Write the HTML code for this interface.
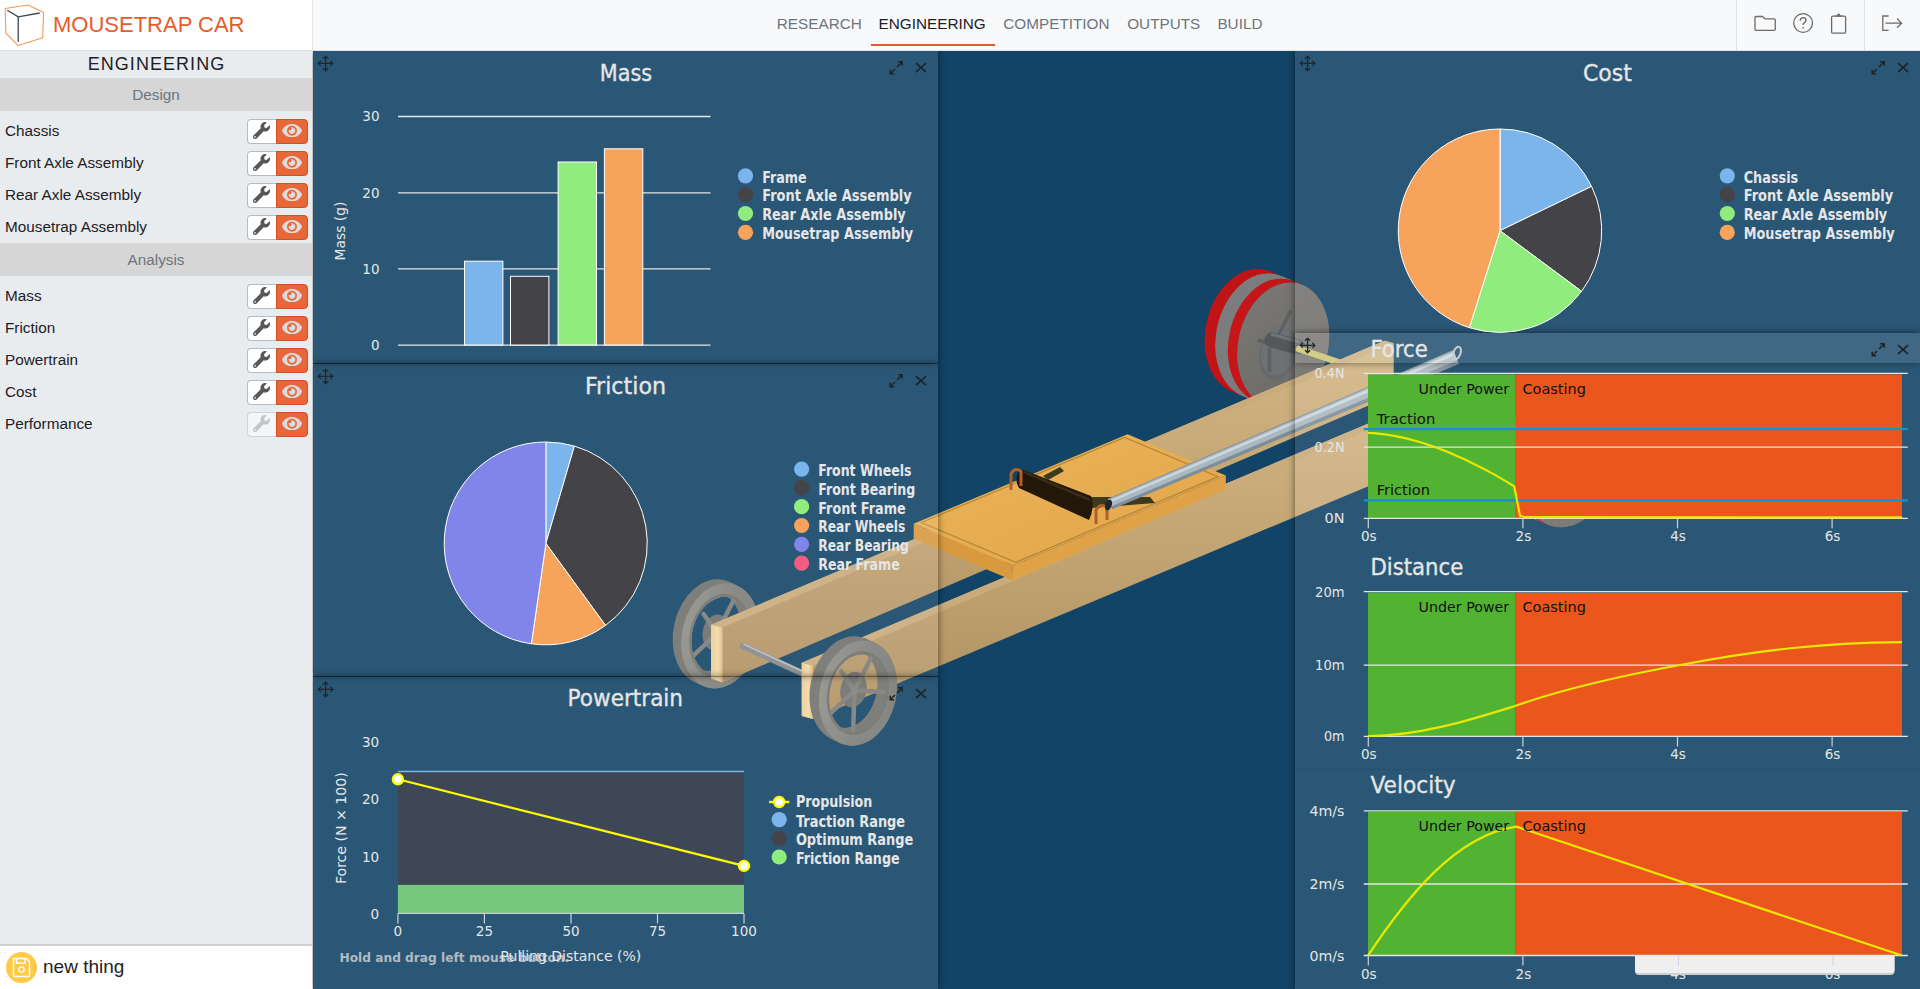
<!DOCTYPE html><html><head><meta charset="utf-8"><title>Mousetrap Car - Engineering</title><style>
*{margin:0;padding:0;box-sizing:border-box}
html,body{width:1920px;height:989px;overflow:hidden;background:#fff;font-family:"Liberation Sans",Arial,sans-serif}
#hdr{position:absolute;left:0;top:0;width:1920px;height:51px;background:#f8f9fa;border-bottom:1px solid #dfe3e7}
#logo{position:absolute;left:0;top:0;width:313px;height:50px;background:#fff;border-right:1px solid #e3e6e9}
#logo .t{position:absolute;left:53px;top:11.5px;font-size:22px;line-height:26px;color:#e95b2b;white-space:nowrap}
.nav{position:absolute;top:15px;font-size:15.3px;line-height:17px;color:#6c757d;white-space:nowrap}
.nav.act{color:#1d2125}
#uline{position:absolute;left:871px;top:44px;width:124px;height:2px;background:#e8582a}
.sep{position:absolute;top:0;width:1px;height:50px;background:#dfe2e5}
#side{position:absolute;left:0;top:51px;width:312px;height:938px;background:#e9ecef}
#side .h{position:absolute;left:0;top:0;width:312px;height:27px;text-align:center;font-size:18px;line-height:27px;letter-spacing:1.05px;color:#1d2125;padding-left:1px}
#side .sh{position:absolute;left:0;width:312px;height:33px;background:#d6d6d6;text-align:center;font-size:15.3px;line-height:33px;color:#6c757d}
.row{position:absolute;left:0;width:312px;height:32px}
.row .lbl{position:absolute;left:5px;top:0;font-size:15.3px;line-height:32px;color:#1d2125;white-space:nowrap}
.row .btns{position:absolute;left:247px;top:4px;height:25px;width:61px}
.b1{position:absolute;left:0;top:0;width:30px;height:25px;background:#fff;border:1px solid #b6bcc3;border-right:none;border-radius:4px 0 0 4px}
.b1.dis{background:#f4f5f6;border-color:#d0d4d8}
.b1 svg{position:absolute;left:5px;top:2px}
.b2{position:absolute;left:29px;top:0;width:32px;height:25px;background:#e8673a;border:1px solid #d2511f;border-radius:0 4px 4px 0}
.b2 svg{position:absolute;left:5px;top:4px}
#foot{position:absolute;left:0;top:944px;width:312px;height:45px;background:#fff;border-top:2px solid #cfd1d3}
#foot .c{position:absolute;left:5.5px;top:6px;width:31px;height:31px;border-radius:50%;background:#ffcb47}
#foot .t{position:absolute;left:43px;top:10px;font-size:19px;line-height:22px;color:#1d2125}
#main{position:absolute;left:313px;top:51px;width:1607px;height:938px;background:#114466;overflow:hidden}
.pan{position:absolute;background:rgba(255,255,255,0.105);box-shadow:0 0 7px rgba(0,0,0,0.55)}
#ov{position:absolute;left:0;top:0}
#ov text{font-family:"DejaVu Sans","Liberation Sans",sans-serif}
</style></head><body>
<div id="main"></div>
<svg id="car" width="1920" height="989" style="position:absolute;left:0;top:0" viewBox="0 0 1920 989"><defs><linearGradient id="beamSide" x1="0" y1="0" x2="0" y2="1"><stop offset="0" stop-color="#d3b683"/><stop offset="1" stop-color="#b09060"/></linearGradient><linearGradient id="rimG" x1="0" y1="0" x2="1" y2="0"><stop offset="0" stop-color="#8d8d88"/><stop offset="0.5" stop-color="#7e7e7a"/><stop offset="1" stop-color="#777773"/></linearGradient><linearGradient id="rearFace" x1="0" y1="0" x2="1" y2="1"><stop offset="0" stop-color="#7a7976"/><stop offset="1" stop-color="#696864"/></linearGradient><linearGradient id="beamEnd" x1="0" y1="0" x2="1" y2="0"><stop offset="0" stop-color="#e9cc93"/><stop offset="0.6" stop-color="#f3d9a3"/><stop offset="1" stop-color="#dcbc85"/></linearGradient><linearGradient id="boardTop" x1="0" y1="0" x2="1" y2="1"><stop offset="0" stop-color="#ebb45a"/><stop offset="1" stop-color="#e2a548"/></linearGradient><clipPath id="mc"><rect x="313" y="51" width="1607" height="938"/></clipPath></defs><g clip-path="url(#mc)"><ellipse cx="1534.8" cy="451.2" rx="44.6" ry="63" transform="rotate(12.9 1534.8 451.2)" fill="#c01518"/>
<ellipse cx="1535.5" cy="451.5" rx="44.6" ry="63" transform="rotate(12.9 1535.5 451.5)" fill="#c01518"/>
<ellipse cx="1536.1" cy="451.8" rx="44.6" ry="63" transform="rotate(12.9 1536.1 451.8)" fill="#c01518"/>
<ellipse cx="1536.8" cy="452" rx="44.6" ry="63" transform="rotate(12.9 1536.8 452)" fill="#c01518"/>
<ellipse cx="1537.5" cy="452.3" rx="44.6" ry="63" transform="rotate(12.9 1537.5 452.3)" fill="#c01518"/>
<ellipse cx="1538.1" cy="452.6" rx="44.6" ry="63" transform="rotate(12.9 1538.1 452.6)" fill="#c01518"/>
<ellipse cx="1538.8" cy="452.9" rx="44.6" ry="63" transform="rotate(12.9 1538.8 452.9)" fill="#c01518"/>
<ellipse cx="1539.4" cy="453.1" rx="44.6" ry="63" transform="rotate(12.9 1539.4 453.1)" fill="#c01518"/>
<ellipse cx="1540.1" cy="453.4" rx="44.6" ry="63" transform="rotate(12.9 1540.1 453.4)" fill="#c01518"/>
<ellipse cx="1540.8" cy="453.7" rx="44.6" ry="63" transform="rotate(12.9 1540.8 453.7)" fill="#c01518"/>
<ellipse cx="1541.4" cy="454" rx="44.6" ry="63" transform="rotate(12.9 1541.4 454)" fill="#c01518"/>
<ellipse cx="1542.1" cy="454.2" rx="44.6" ry="63" transform="rotate(12.9 1542.1 454.2)" fill="#c01518"/>
<ellipse cx="1542.8" cy="454.5" rx="44.6" ry="63" transform="rotate(12.9 1542.8 454.5)" fill="#c01518"/>
<ellipse cx="1543.4" cy="454.8" rx="44.6" ry="63" transform="rotate(12.9 1543.4 454.8)" fill="#c01518"/>
<ellipse cx="1544.1" cy="455.1" rx="44.6" ry="63" transform="rotate(12.9 1544.1 455.1)" fill="#c01518"/>
<ellipse cx="1544.8" cy="455.3" rx="44.6" ry="63" transform="rotate(12.9 1544.8 455.3)" fill="#c01518"/>
<ellipse cx="1545.4" cy="455.6" rx="44.6" ry="63" transform="rotate(12.9 1545.4 455.6)" fill="#7c7d7f"/>
<ellipse cx="1546.1" cy="455.9" rx="44.6" ry="63" transform="rotate(12.9 1546.1 455.9)" fill="#7c7d7f"/>
<ellipse cx="1546.8" cy="456.2" rx="44.6" ry="63" transform="rotate(12.9 1546.8 456.2)" fill="#7c7d7f"/>
<ellipse cx="1547.4" cy="456.4" rx="44.6" ry="63" transform="rotate(12.9 1547.4 456.4)" fill="#7c7d7f"/>
<ellipse cx="1548.1" cy="456.7" rx="44.6" ry="63" transform="rotate(12.9 1548.1 456.7)" fill="#7c7d7f"/>
<ellipse cx="1548.7" cy="457" rx="44.6" ry="63" transform="rotate(12.9 1548.7 457)" fill="#7c7d7f"/>
<ellipse cx="1549.4" cy="457.3" rx="44.6" ry="63" transform="rotate(12.9 1549.4 457.3)" fill="#7c7d7f"/>
<ellipse cx="1550.1" cy="457.5" rx="44.6" ry="63" transform="rotate(12.9 1550.1 457.5)" fill="#7c7d7f"/>
<ellipse cx="1550.7" cy="457.8" rx="44.6" ry="63" transform="rotate(12.9 1550.7 457.8)" fill="#7c7d7f"/>
<ellipse cx="1551.4" cy="458.1" rx="44.6" ry="63" transform="rotate(12.9 1551.4 458.1)" fill="#7c7d7f"/>
<ellipse cx="1552.1" cy="458.4" rx="44.6" ry="63" transform="rotate(12.9 1552.1 458.4)" fill="#7c7d7f"/>
<ellipse cx="1552.7" cy="458.7" rx="44.6" ry="63" transform="rotate(12.9 1552.7 458.7)" fill="#7c7d7f"/>
<ellipse cx="1553.4" cy="458.9" rx="44.6" ry="63" transform="rotate(12.9 1553.4 458.9)" fill="#7c7d7f"/>
<ellipse cx="1554.1" cy="459.2" rx="44.6" ry="63" transform="rotate(12.9 1554.1 459.2)" fill="#7c7d7f"/>
<ellipse cx="1554.7" cy="459.5" rx="44.6" ry="63" transform="rotate(12.9 1554.7 459.5)" fill="#7c7d7f"/>
<ellipse cx="1555.4" cy="459.8" rx="44.6" ry="63" transform="rotate(12.9 1555.4 459.8)" fill="#7c7d7f"/>
<ellipse cx="1556" cy="460" rx="44.6" ry="63" transform="rotate(12.9 1556 460)" fill="#7c7d7f"/>
<ellipse cx="1556.7" cy="460.3" rx="44.6" ry="63" transform="rotate(12.9 1556.7 460.3)" fill="#7c7d7f"/>
<ellipse cx="1557.4" cy="460.6" rx="44.6" ry="63" transform="rotate(12.9 1557.4 460.6)" fill="#7c7d7f"/>
<ellipse cx="1558" cy="460.9" rx="44.6" ry="63" transform="rotate(12.9 1558 460.9)" fill="#c6171a"/>
<ellipse cx="1558.7" cy="461.1" rx="44.6" ry="63" transform="rotate(12.9 1558.7 461.1)" fill="#c6171a"/>
<ellipse cx="1559.4" cy="461.4" rx="44.6" ry="63" transform="rotate(12.9 1559.4 461.4)" fill="#c6171a"/>
<ellipse cx="1560" cy="461.7" rx="44.6" ry="63" transform="rotate(12.9 1560 461.7)" fill="#c6171a"/>
<ellipse cx="1560.7" cy="462" rx="44.6" ry="63" transform="rotate(12.9 1560.7 462)" fill="#c6171a"/>
<ellipse cx="1561.4" cy="462.2" rx="44.6" ry="63" transform="rotate(12.9 1561.4 462.2)" fill="#c6171a"/>
<ellipse cx="1562" cy="462.5" rx="44.6" ry="63" transform="rotate(12.9 1562 462.5)" fill="#c6171a"/>
<ellipse cx="1562.7" cy="462.8" rx="44.6" ry="63" transform="rotate(12.9 1562.7 462.8)" fill="#c6171a"/>
<ellipse cx="1563.4" cy="463.1" rx="44.6" ry="63" transform="rotate(12.9 1563.4 463.1)" fill="#c6171a"/>
<ellipse cx="1564" cy="463.3" rx="44.6" ry="63" transform="rotate(12.9 1564 463.3)" fill="#c6171a"/>
<ellipse cx="1564.7" cy="463.6" rx="44.6" ry="63" transform="rotate(12.9 1564.7 463.6)" fill="#c6171a"/>
<ellipse cx="1565.3" cy="463.9" rx="44.6" ry="63" transform="rotate(12.9 1565.3 463.9)" fill="#c6171a"/>
<ellipse cx="1566" cy="464.2" rx="44.6" ry="63" transform="rotate(12.9 1566 464.2)" fill="#c6171a"/>
<ellipse cx="1566.7" cy="464.4" rx="44.6" ry="63" transform="rotate(12.9 1566.7 464.4)" fill="#c6171a"/>
<ellipse cx="1567.3" cy="464.7" rx="44.6" ry="63" transform="rotate(12.9 1567.3 464.7)" fill="#6f6f6d"/>
<ellipse cx="1568" cy="465" rx="44.6" ry="63" transform="rotate(12.9 1568 465)" fill="#6f6f6d"/>
<ellipse cx="1568" cy="465" rx="44.6" ry="63" transform="rotate(12.9 1568 465)" fill="url(#rearFace)"/>
<ellipse cx="1250.3" cy="331.2" rx="44.6" ry="63" transform="rotate(12.9 1250.3 331.2)" fill="#c01518"/>
<ellipse cx="1251" cy="331.5" rx="44.6" ry="63" transform="rotate(12.9 1251 331.5)" fill="#c01518"/>
<ellipse cx="1251.6" cy="331.8" rx="44.6" ry="63" transform="rotate(12.9 1251.6 331.8)" fill="#c01518"/>
<ellipse cx="1252.3" cy="332" rx="44.6" ry="63" transform="rotate(12.9 1252.3 332)" fill="#c01518"/>
<ellipse cx="1253" cy="332.3" rx="44.6" ry="63" transform="rotate(12.9 1253 332.3)" fill="#c01518"/>
<ellipse cx="1253.6" cy="332.6" rx="44.6" ry="63" transform="rotate(12.9 1253.6 332.6)" fill="#c01518"/>
<ellipse cx="1254.3" cy="332.9" rx="44.6" ry="63" transform="rotate(12.9 1254.3 332.9)" fill="#c01518"/>
<ellipse cx="1254.9" cy="333.1" rx="44.6" ry="63" transform="rotate(12.9 1254.9 333.1)" fill="#c01518"/>
<ellipse cx="1255.6" cy="333.4" rx="44.6" ry="63" transform="rotate(12.9 1255.6 333.4)" fill="#c01518"/>
<ellipse cx="1256.3" cy="333.7" rx="44.6" ry="63" transform="rotate(12.9 1256.3 333.7)" fill="#c01518"/>
<ellipse cx="1256.9" cy="334" rx="44.6" ry="63" transform="rotate(12.9 1256.9 334)" fill="#c01518"/>
<ellipse cx="1257.6" cy="334.2" rx="44.6" ry="63" transform="rotate(12.9 1257.6 334.2)" fill="#c01518"/>
<ellipse cx="1258.3" cy="334.5" rx="44.6" ry="63" transform="rotate(12.9 1258.3 334.5)" fill="#c01518"/>
<ellipse cx="1258.9" cy="334.8" rx="44.6" ry="63" transform="rotate(12.9 1258.9 334.8)" fill="#c01518"/>
<ellipse cx="1259.6" cy="335.1" rx="44.6" ry="63" transform="rotate(12.9 1259.6 335.1)" fill="#c01518"/>
<ellipse cx="1260.3" cy="335.3" rx="44.6" ry="63" transform="rotate(12.9 1260.3 335.3)" fill="#c01518"/>
<ellipse cx="1260.9" cy="335.6" rx="44.6" ry="63" transform="rotate(12.9 1260.9 335.6)" fill="#7c7d7f"/>
<ellipse cx="1261.6" cy="335.9" rx="44.6" ry="63" transform="rotate(12.9 1261.6 335.9)" fill="#7c7d7f"/>
<ellipse cx="1262.3" cy="336.2" rx="44.6" ry="63" transform="rotate(12.9 1262.3 336.2)" fill="#7c7d7f"/>
<ellipse cx="1262.9" cy="336.4" rx="44.6" ry="63" transform="rotate(12.9 1262.9 336.4)" fill="#7c7d7f"/>
<ellipse cx="1263.6" cy="336.7" rx="44.6" ry="63" transform="rotate(12.9 1263.6 336.7)" fill="#7c7d7f"/>
<ellipse cx="1264.2" cy="337" rx="44.6" ry="63" transform="rotate(12.9 1264.2 337)" fill="#7c7d7f"/>
<ellipse cx="1264.9" cy="337.3" rx="44.6" ry="63" transform="rotate(12.9 1264.9 337.3)" fill="#7c7d7f"/>
<ellipse cx="1265.6" cy="337.5" rx="44.6" ry="63" transform="rotate(12.9 1265.6 337.5)" fill="#7c7d7f"/>
<ellipse cx="1266.2" cy="337.8" rx="44.6" ry="63" transform="rotate(12.9 1266.2 337.8)" fill="#7c7d7f"/>
<ellipse cx="1266.9" cy="338.1" rx="44.6" ry="63" transform="rotate(12.9 1266.9 338.1)" fill="#7c7d7f"/>
<ellipse cx="1267.6" cy="338.4" rx="44.6" ry="63" transform="rotate(12.9 1267.6 338.4)" fill="#7c7d7f"/>
<ellipse cx="1268.2" cy="338.7" rx="44.6" ry="63" transform="rotate(12.9 1268.2 338.7)" fill="#7c7d7f"/>
<ellipse cx="1268.9" cy="338.9" rx="44.6" ry="63" transform="rotate(12.9 1268.9 338.9)" fill="#7c7d7f"/>
<ellipse cx="1269.6" cy="339.2" rx="44.6" ry="63" transform="rotate(12.9 1269.6 339.2)" fill="#7c7d7f"/>
<ellipse cx="1270.2" cy="339.5" rx="44.6" ry="63" transform="rotate(12.9 1270.2 339.5)" fill="#7c7d7f"/>
<ellipse cx="1270.9" cy="339.8" rx="44.6" ry="63" transform="rotate(12.9 1270.9 339.8)" fill="#7c7d7f"/>
<ellipse cx="1271.5" cy="340" rx="44.6" ry="63" transform="rotate(12.9 1271.5 340)" fill="#7c7d7f"/>
<ellipse cx="1272.2" cy="340.3" rx="44.6" ry="63" transform="rotate(12.9 1272.2 340.3)" fill="#7c7d7f"/>
<ellipse cx="1272.9" cy="340.6" rx="44.6" ry="63" transform="rotate(12.9 1272.9 340.6)" fill="#7c7d7f"/>
<ellipse cx="1273.5" cy="340.9" rx="44.6" ry="63" transform="rotate(12.9 1273.5 340.9)" fill="#c6171a"/>
<ellipse cx="1274.2" cy="341.1" rx="44.6" ry="63" transform="rotate(12.9 1274.2 341.1)" fill="#c6171a"/>
<ellipse cx="1274.9" cy="341.4" rx="44.6" ry="63" transform="rotate(12.9 1274.9 341.4)" fill="#c6171a"/>
<ellipse cx="1275.5" cy="341.7" rx="44.6" ry="63" transform="rotate(12.9 1275.5 341.7)" fill="#c6171a"/>
<ellipse cx="1276.2" cy="342" rx="44.6" ry="63" transform="rotate(12.9 1276.2 342)" fill="#c6171a"/>
<ellipse cx="1276.9" cy="342.2" rx="44.6" ry="63" transform="rotate(12.9 1276.9 342.2)" fill="#c6171a"/>
<ellipse cx="1277.5" cy="342.5" rx="44.6" ry="63" transform="rotate(12.9 1277.5 342.5)" fill="#c6171a"/>
<ellipse cx="1278.2" cy="342.8" rx="44.6" ry="63" transform="rotate(12.9 1278.2 342.8)" fill="#c6171a"/>
<ellipse cx="1278.9" cy="343.1" rx="44.6" ry="63" transform="rotate(12.9 1278.9 343.1)" fill="#c6171a"/>
<ellipse cx="1279.5" cy="343.3" rx="44.6" ry="63" transform="rotate(12.9 1279.5 343.3)" fill="#c6171a"/>
<ellipse cx="1280.2" cy="343.6" rx="44.6" ry="63" transform="rotate(12.9 1280.2 343.6)" fill="#c6171a"/>
<ellipse cx="1280.8" cy="343.9" rx="44.6" ry="63" transform="rotate(12.9 1280.8 343.9)" fill="#c6171a"/>
<ellipse cx="1281.5" cy="344.2" rx="44.6" ry="63" transform="rotate(12.9 1281.5 344.2)" fill="#c6171a"/>
<ellipse cx="1282.2" cy="344.4" rx="44.6" ry="63" transform="rotate(12.9 1282.2 344.4)" fill="#c6171a"/>
<ellipse cx="1282.8" cy="344.7" rx="44.6" ry="63" transform="rotate(12.9 1282.8 344.7)" fill="#6f6f6d"/>
<ellipse cx="1283.5" cy="345" rx="44.6" ry="63" transform="rotate(12.9 1283.5 345)" fill="#6f6f6d"/>
<ellipse cx="1283.5" cy="345" rx="44.6" ry="63" transform="rotate(12.9 1283.5 345)" fill="url(#rearFace)"/>
<ellipse cx="1278" cy="353" rx="18.5" ry="27" transform="rotate(12.9 1278 353)" fill="#66696b"/>
<ellipse cx="1278" cy="351" rx="17" ry="25" transform="rotate(12.9 1278 351)" fill="#6e7173"/>
<path d="M1276 340 L1291 310 M1269.5 347 L1269.5 372 M1272 345 L1258 340" stroke="#5e6163" stroke-width="3.5" fill="none"/>
<path d="M1272 340 L1298 347" stroke="#55585b" stroke-width="15" stroke-linecap="round"/>
<path d="M1272 334.5 L1298 341.5" stroke="#6f7376" stroke-width="3" stroke-linecap="round"/>
<path d="M1299 349 L1338 362" stroke="#cbc26a" stroke-width="6.5" stroke-linecap="round"/>
<path d="M673.5 631.9 a38.3 53.2 0 1 0 76.6 0 a38.3 53.2 0 1 0 -76.6 0 Z M683.5 631.9 a28.3 39.4 0 1 0 56.6 0 a28.3 39.4 0 1 0 -56.6 0 Z" fill-rule="evenodd" fill="#70706c" transform="rotate(12.7 711.8 631.9)"/>
<path d="M674.4 632.3 a38.3 53.2 0 1 0 76.6 0 a38.3 53.2 0 1 0 -76.6 0 Z M684.4 632.3 a28.3 39.4 0 1 0 56.6 0 a28.3 39.4 0 1 0 -56.6 0 Z" fill-rule="evenodd" fill="#70706c" transform="rotate(12.7 712.7 632.3)"/>
<path d="M675.4 632.8 a38.3 53.2 0 1 0 76.6 0 a38.3 53.2 0 1 0 -76.6 0 Z M685.4 632.8 a28.3 39.4 0 1 0 56.6 0 a28.3 39.4 0 1 0 -56.6 0 Z" fill-rule="evenodd" fill="#70706c" transform="rotate(12.7 713.7 632.8)"/>
<path d="M676.3 633.2 a38.3 53.2 0 1 0 76.6 0 a38.3 53.2 0 1 0 -76.6 0 Z M686.3 633.2 a28.3 39.4 0 1 0 56.6 0 a28.3 39.4 0 1 0 -56.6 0 Z" fill-rule="evenodd" fill="#70706c" transform="rotate(12.7 714.6 633.2)"/>
<path d="M677.3 633.6 a38.3 53.2 0 1 0 76.6 0 a38.3 53.2 0 1 0 -76.6 0 Z M687.3 633.6 a28.3 39.4 0 1 0 56.6 0 a28.3 39.4 0 1 0 -56.6 0 Z" fill-rule="evenodd" fill="#70706c" transform="rotate(12.7 715.6 633.6)"/>
<path d="M678.2 634.1 a38.3 53.2 0 1 0 76.6 0 a38.3 53.2 0 1 0 -76.6 0 Z M688.2 634.1 a28.3 39.4 0 1 0 56.6 0 a28.3 39.4 0 1 0 -56.6 0 Z" fill-rule="evenodd" fill="#70706c" transform="rotate(12.7 716.5 634.1)"/>
<path d="M679.2 634.5 a38.3 53.2 0 1 0 76.6 0 a38.3 53.2 0 1 0 -76.6 0 Z M689.2 634.5 a28.3 39.4 0 1 0 56.6 0 a28.3 39.4 0 1 0 -56.6 0 Z" fill-rule="evenodd" fill="#70706c" transform="rotate(12.7 717.5 634.5)"/>
<path d="M680.1 634.9 a38.3 53.2 0 1 0 76.6 0 a38.3 53.2 0 1 0 -76.6 0 Z M690.1 634.9 a28.3 39.4 0 1 0 56.6 0 a28.3 39.4 0 1 0 -56.6 0 Z" fill-rule="evenodd" fill="#70706c" transform="rotate(12.7 718.4 634.9)"/>
<path d="M681.1 635.4 a38.3 53.2 0 1 0 76.6 0 a38.3 53.2 0 1 0 -76.6 0 Z M691.1 635.4 a28.3 39.4 0 1 0 56.6 0 a28.3 39.4 0 1 0 -56.6 0 Z" fill-rule="evenodd" fill="#70706c" transform="rotate(12.7 719.4 635.4)"/>
<path d="M682 635.8 a38.3 53.2 0 1 0 76.6 0 a38.3 53.2 0 1 0 -76.6 0 Z M692 635.8 a28.3 39.4 0 1 0 56.6 0 a28.3 39.4 0 1 0 -56.6 0 Z" fill-rule="evenodd" fill="#6b6b68" transform="rotate(12.7 720.3 635.8)"/>
<ellipse cx="715.8" cy="632.3" rx="13" ry="18" transform="rotate(12.7 715.8 632.3)" fill="#6d6d6a"/>
<path d="M716.8 633.3 L735 597.6" stroke="#7a7a77" stroke-width="4.5" stroke-linecap="round"/>
<path d="M716.8 633.3 L746.5 634.6" stroke="#7a7a77" stroke-width="4.5" stroke-linecap="round"/>
<path d="M716.8 633.3 L715.6 673.4" stroke="#7a7a77" stroke-width="4.5" stroke-linecap="round"/>
<path d="M716.8 633.3 L692.6 656.4" stroke="#7a7a77" stroke-width="4.5" stroke-linecap="round"/>
<path d="M716.8 633.3 L703.5 613.9" stroke="#7a7a77" stroke-width="4.5" stroke-linecap="round"/>
<ellipse cx="716.8" cy="633.3" rx="3.5" ry="4.5" transform="rotate(12.7 716.8 633.3)" fill="#7f7f7b"/>
<path d="M682 635.8 a38.3 53.2 0 1 0 76.6 0 a38.3 53.2 0 1 0 -76.6 0 Z M692 635.8 a28.3 39.4 0 1 0 56.6 0 a28.3 39.4 0 1 0 -56.6 0 Z" fill-rule="evenodd" fill="url(#rimG)" transform="rotate(12.7 720.3 635.8)"/>
<path d="M689.8 635.8 a30.5 42.4 0 1 0 61 0 a30.5 42.4 0 1 0 -61 0 Z M692 635.8 a28.3 39.4 0 1 0 56.6 0 a28.3 39.4 0 1 0 -56.6 0 Z" fill-rule="evenodd" fill="#6e6e6b" transform="rotate(12.7 720.3 635.8)"/>
<polygon points="711,624.8 1384.7,340.7 1393.7,343.2 1393.7,394.8 722.5,682.4 711,678.6" fill="url(#beamSide)"/>
<polygon points="711,624.8 1384.7,340.7 1393.7,343.2 722.5,627.6" fill="#c9ab7c"/>
<polygon points="711,624.8 722.5,627.6 722.5,682.4 711,678.6" fill="url(#beamEnd)"/>
<path d="M743 646 L804 674" stroke="#85888a" stroke-width="6.5" stroke-linecap="round"/>
<path d="M744 644.3 L804 672" stroke="#b9bcbe" stroke-width="1.6" stroke-linecap="round"/>
<polygon points="801.7,662.7 1440,393.3 1449,395.8 1449,452.4 812.9,718.9 801.7,716" fill="url(#beamSide)"/>
<polygon points="801.7,662.7 1440,393.3 1449,395.8 812.9,665.7" fill="#c9ab7c"/>
<polygon points="801.7,662.7 812.9,665.7 812.9,718.9 801.7,716" fill="url(#beamEnd)"/>
<path d="M810.3 688.8 a38.3 53.2 0 1 0 76.6 0 a38.3 53.2 0 1 0 -76.6 0 Z M820.3 688.8 a28.3 39.4 0 1 0 56.6 0 a28.3 39.4 0 1 0 -56.6 0 Z" fill-rule="evenodd" fill="#70706c" transform="rotate(12.7 848.6 688.8)"/>
<path d="M811.3 689.3 a38.3 53.2 0 1 0 76.6 0 a38.3 53.2 0 1 0 -76.6 0 Z M821.3 689.3 a28.3 39.4 0 1 0 56.6 0 a28.3 39.4 0 1 0 -56.6 0 Z" fill-rule="evenodd" fill="#70706c" transform="rotate(12.7 849.6 689.3)"/>
<path d="M812.4 689.8 a38.3 53.2 0 1 0 76.6 0 a38.3 53.2 0 1 0 -76.6 0 Z M822.4 689.8 a28.3 39.4 0 1 0 56.6 0 a28.3 39.4 0 1 0 -56.6 0 Z" fill-rule="evenodd" fill="#70706c" transform="rotate(12.7 850.7 689.8)"/>
<path d="M813.4 690.2 a38.3 53.2 0 1 0 76.6 0 a38.3 53.2 0 1 0 -76.6 0 Z M823.4 690.2 a28.3 39.4 0 1 0 56.6 0 a28.3 39.4 0 1 0 -56.6 0 Z" fill-rule="evenodd" fill="#70706c" transform="rotate(12.7 851.7 690.2)"/>
<path d="M814.4 690.7 a38.3 53.2 0 1 0 76.6 0 a38.3 53.2 0 1 0 -76.6 0 Z M824.4 690.7 a28.3 39.4 0 1 0 56.6 0 a28.3 39.4 0 1 0 -56.6 0 Z" fill-rule="evenodd" fill="#70706c" transform="rotate(12.7 852.7 690.7)"/>
<path d="M815.5 691.2 a38.3 53.2 0 1 0 76.6 0 a38.3 53.2 0 1 0 -76.6 0 Z M825.5 691.2 a28.3 39.4 0 1 0 56.6 0 a28.3 39.4 0 1 0 -56.6 0 Z" fill-rule="evenodd" fill="#70706c" transform="rotate(12.7 853.8 691.2)"/>
<path d="M816.5 691.7 a38.3 53.2 0 1 0 76.6 0 a38.3 53.2 0 1 0 -76.6 0 Z M826.5 691.7 a28.3 39.4 0 1 0 56.6 0 a28.3 39.4 0 1 0 -56.6 0 Z" fill-rule="evenodd" fill="#70706c" transform="rotate(12.7 854.8 691.7)"/>
<path d="M817.5 692.1 a38.3 53.2 0 1 0 76.6 0 a38.3 53.2 0 1 0 -76.6 0 Z M827.5 692.1 a28.3 39.4 0 1 0 56.6 0 a28.3 39.4 0 1 0 -56.6 0 Z" fill-rule="evenodd" fill="#70706c" transform="rotate(12.7 855.8 692.1)"/>
<path d="M818.6 692.6 a38.3 53.2 0 1 0 76.6 0 a38.3 53.2 0 1 0 -76.6 0 Z M828.6 692.6 a28.3 39.4 0 1 0 56.6 0 a28.3 39.4 0 1 0 -56.6 0 Z" fill-rule="evenodd" fill="#70706c" transform="rotate(12.7 856.9 692.6)"/>
<path d="M819.6 693.1 a38.3 53.2 0 1 0 76.6 0 a38.3 53.2 0 1 0 -76.6 0 Z M829.6 693.1 a28.3 39.4 0 1 0 56.6 0 a28.3 39.4 0 1 0 -56.6 0 Z" fill-rule="evenodd" fill="#6b6b68" transform="rotate(12.7 857.9 693.1)"/>
<ellipse cx="853.4" cy="689.6" rx="13" ry="18" transform="rotate(12.7 853.4 689.6)" fill="#6d6d6a"/>
<path d="M854.4 690.6 L872.6 654.9" stroke="#7a7a77" stroke-width="4.5" stroke-linecap="round"/>
<path d="M854.4 690.6 L884.1 691.9" stroke="#7a7a77" stroke-width="4.5" stroke-linecap="round"/>
<path d="M854.4 690.6 L853.2 730.7" stroke="#7a7a77" stroke-width="4.5" stroke-linecap="round"/>
<path d="M854.4 690.6 L830.2 713.7" stroke="#7a7a77" stroke-width="4.5" stroke-linecap="round"/>
<path d="M854.4 690.6 L841.1 671.2" stroke="#7a7a77" stroke-width="4.5" stroke-linecap="round"/>
<ellipse cx="854.4" cy="690.6" rx="3.5" ry="4.5" transform="rotate(12.7 854.4 690.6)" fill="#7f7f7b"/>
<path d="M819.6 693.1 a38.3 53.2 0 1 0 76.6 0 a38.3 53.2 0 1 0 -76.6 0 Z M829.6 693.1 a28.3 39.4 0 1 0 56.6 0 a28.3 39.4 0 1 0 -56.6 0 Z" fill-rule="evenodd" fill="url(#rimG)" transform="rotate(12.7 857.9 693.1)"/>
<path d="M827.4 693.1 a30.5 42.4 0 1 0 61 0 a30.5 42.4 0 1 0 -61 0 Z M829.6 693.1 a28.3 39.4 0 1 0 56.6 0 a28.3 39.4 0 1 0 -56.6 0 Z" fill-rule="evenodd" fill="#6e6e6b" transform="rotate(12.7 857.9 693.1)"/>
<polygon points="913.7,523.7 1012.8,565.6 1012.8,580.4 913.7,538.5" fill="#d8993f"/>
<polygon points="1012.8,565.6 1225.8,475.5 1225.8,489.3 1012.8,580.4" fill="#e0a246"/>
<polygon points="913.7,523.7 1127.5,434.2 1225.8,475.5 1012.8,565.6" fill="url(#boardTop)"/>
<polygon points="921.5,522.5 1124.6,437.5 1218,476.7 1015.7,562.3" fill="none" stroke="#a87a2c" stroke-width="1.3" opacity="0.75"/>
<polygon points="1043,476 1060,467 1064,471 1048,480" fill="#3a3a1e"/>
<polygon points="1088,497 1150,497 1155,503 1092,508" fill="#3a3a1e"/>
<path d="M1021 469 L1091 496 Q1095 508 1089 520 L1019 488 Q1013 478 1021 469 Z" fill="#231709"/>
<path d="M1024 472 L1090 500" stroke="#3b2a17" stroke-width="2.5"/>
<path d="M1011 490 L1011 474 Q1014 467 1021 471 L1021 486" stroke="#b0602a" stroke-width="3" fill="none"/>
<path d="M1096 524 L1096 510 Q1100 503 1107 507 L1107 520" stroke="#b0602a" stroke-width="3" fill="none"/>
<polygon points="1112.2,509.3 1458.9,363.9 1453.1,350.1 1107.8,498.7" fill="#7e8d97"/>
<polygon points="1111,506.4 1457.4,360.2 1453.5,351 1108.1,499.5" fill="#a9b8c1"/>
<polygon points="1109.5,502.8 1455.3,355.3 1454.1,352.6 1108.6,500.8" fill="#cdd8de"/>
<ellipse cx="1108.5" cy="505" rx="3.2" ry="5.5" transform="rotate(20 1108.5 505)" fill="#1d2731"/>
<ellipse cx="1457" cy="353" rx="3.5" ry="6.5" transform="rotate(20 1457 353)" fill="none" stroke="#b9c3c9" stroke-width="2"/></g></svg>
<div class="pan" style="left:313px;top:51px;width:625px;height:312px"></div>
<div class="pan" style="left:313px;top:364px;width:625px;height:312px"></div>
<div class="pan" style="left:313px;top:677px;width:625px;height:312px"></div>
<div class="pan" style="left:1295px;top:51px;width:625px;height:312px"></div>
<div class="pan" style="left:1295px;top:333px;width:625px;height:656px"></div>
<svg id="ov" width="1920" height="989" viewBox="0 0 1920 989"><g clip-path="url(#mc2)"><text x="625.9" y="80.8" font-size="23" fill="#e6e6e6" text-anchor="middle" font-weight="normal" textLength="52.3" lengthAdjust="spacingAndGlyphs" stroke="#e6e6e6" stroke-width="0.35">Mass</text>
<path d="M398 116.5H710.5" stroke="#e6e6e6" stroke-width="1.3"/>
<text x="379.5" y="121.3" font-size="13.5" fill="#e6e6e6" text-anchor="end" font-weight="normal">30</text>
<path d="M398 192.8H710.5" stroke="#e6e6e6" stroke-width="1.3"/>
<text x="379.5" y="197.6" font-size="13.5" fill="#e6e6e6" text-anchor="end" font-weight="normal">20</text>
<path d="M398 268.8H710.5" stroke="#e6e6e6" stroke-width="1.3"/>
<text x="379.5" y="273.6" font-size="13.5" fill="#e6e6e6" text-anchor="end" font-weight="normal">10</text>
<path d="M398 345.1H710.5" stroke="#e6e6e6" stroke-width="1.3"/>
<text x="379.5" y="349.9" font-size="13.5" fill="#e6e6e6" text-anchor="end" font-weight="normal">0</text>
<rect x="464.5" y="261.2" width="38.4" height="83.8" fill="#7cb5ec" stroke="#fff" stroke-width="1"/>
<rect x="510.5" y="276.3" width="38.4" height="68.7" fill="#434348" stroke="#fff" stroke-width="1"/>
<rect x="558.1" y="162" width="38.4" height="183" fill="#90ed7d" stroke="#fff" stroke-width="1"/>
<rect x="604.4" y="148.8" width="38.4" height="196.2" fill="#f7a35c" stroke="#fff" stroke-width="1"/>
<text transform="translate(345 231) rotate(-90)" font-size="14" fill="#e6e6e6" text-anchor="middle" textLength="59" lengthAdjust="spacingAndGlyphs">Mass (g)</text>
<circle cx="745.5" cy="175.8" r="7.6" fill="#7cb5ec"/>
<text x="762.2" y="182.6" font-size="15" fill="#e6e6e6" text-anchor="start" font-weight="bold" textLength="44.5" lengthAdjust="spacingAndGlyphs">Frame</text>
<circle cx="745.5" cy="194.6" r="7.6" fill="#434348"/>
<text x="762.2" y="201.4" font-size="15" fill="#e6e6e6" text-anchor="start" font-weight="bold" textLength="149.5" lengthAdjust="spacingAndGlyphs">Front Axle Assembly</text>
<circle cx="745.5" cy="213.5" r="7.6" fill="#90ed7d"/>
<text x="762.2" y="220.3" font-size="15" fill="#e6e6e6" text-anchor="start" font-weight="bold" textLength="143.5" lengthAdjust="spacingAndGlyphs">Rear Axle Assembly</text>
<circle cx="745.5" cy="232.3" r="7.6" fill="#f7a35c"/>
<text x="762.2" y="239.2" font-size="15" fill="#e6e6e6" text-anchor="start" font-weight="bold" textLength="151" lengthAdjust="spacingAndGlyphs">Mousetrap Assembly</text>
<text x="625.5" y="393.8" font-size="23" fill="#e6e6e6" text-anchor="middle" font-weight="normal" textLength="81.1" lengthAdjust="spacingAndGlyphs" stroke="#e6e6e6" stroke-width="0.35">Friction</text>
<path d="M545.9 543.4 L545.9 442 A101.4 101.4 0 0 1 574.4 446.1 Z" fill="#7cb5ec" stroke="#fff" stroke-width="1" stroke-linejoin="round"/>
<path d="M545.9 543.4 L574.4 446.1 A101.4 101.4 0 0 1 605.5 625.4 Z" fill="#434348" stroke="#fff" stroke-width="1" stroke-linejoin="round"/>
<path d="M545.9 543.4 L605.5 625.4 A101.4 101.4 0 0 1 531.4 643.8 Z" fill="#f7a35c" stroke="#fff" stroke-width="1" stroke-linejoin="round"/>
<path d="M545.9 543.4 L531.4 643.8 A101.4 101.4 0 0 1 545.9 442 Z" fill="#8085e9" stroke="#fff" stroke-width="1" stroke-linejoin="round"/>
<circle cx="801.6" cy="469.1" r="7.6" fill="#7cb5ec"/>
<text x="818.2" y="475.9" font-size="15" fill="#e6e6e6" text-anchor="start" font-weight="bold" textLength="93.2" lengthAdjust="spacingAndGlyphs">Front Wheels</text>
<circle cx="801.6" cy="487.9" r="7.6" fill="#434348"/>
<text x="818.2" y="494.7" font-size="15" fill="#e6e6e6" text-anchor="start" font-weight="bold" textLength="97.1" lengthAdjust="spacingAndGlyphs">Front Bearing</text>
<circle cx="801.6" cy="506.7" r="7.6" fill="#90ed7d"/>
<text x="818.2" y="513.5" font-size="15" fill="#e6e6e6" text-anchor="start" font-weight="bold" textLength="87.5" lengthAdjust="spacingAndGlyphs">Front Frame</text>
<circle cx="801.6" cy="525.5" r="7.6" fill="#f7a35c"/>
<text x="818.2" y="532.3" font-size="15" fill="#e6e6e6" text-anchor="start" font-weight="bold" textLength="87.1" lengthAdjust="spacingAndGlyphs">Rear Wheels</text>
<circle cx="801.6" cy="544.3" r="7.6" fill="#8085e9"/>
<text x="818.2" y="551.1" font-size="15" fill="#e6e6e6" text-anchor="start" font-weight="bold" textLength="90.6" lengthAdjust="spacingAndGlyphs">Rear Bearing</text>
<circle cx="801.6" cy="563.1" r="7.6" fill="#f15c80"/>
<text x="818.2" y="569.9" font-size="15" fill="#e6e6e6" text-anchor="start" font-weight="bold" textLength="81.5" lengthAdjust="spacingAndGlyphs">Rear Frame</text>
<text x="625.3" y="706.3" font-size="23" fill="#e6e6e6" text-anchor="middle" font-weight="normal" textLength="115.5" lengthAdjust="spacingAndGlyphs" stroke="#e6e6e6" stroke-width="0.35">Powertrain</text>
<text x="379.2" y="746.8" font-size="13.5" fill="#e6e6e6" text-anchor="end" font-weight="normal">30</text>
<text x="379.2" y="804.1" font-size="13.5" fill="#e6e6e6" text-anchor="end" font-weight="normal">20</text>
<text x="379.2" y="861.5" font-size="13.5" fill="#e6e6e6" text-anchor="end" font-weight="normal">10</text>
<text x="379.2" y="918.8" font-size="13.5" fill="#e6e6e6" text-anchor="end" font-weight="normal">0</text>
<rect x="397.9" y="771.7" width="346.1" height="113.2" fill="#3d4756"/>
<rect x="397.9" y="884.9" width="346.1" height="28.5" fill="#76c97c"/>
<path d="M397.9 771.5H744" stroke="#7cb5ec" stroke-width="1.6"/>
<path d="M397.9 913.4H744" stroke="#c8d0da" stroke-width="1.2"/>
<path d="M397.9 913.4V923.4" stroke="#c8d0da" stroke-width="1.2"/>
<text x="397.9" y="936.4" font-size="13.5" fill="#e6e6e6" text-anchor="middle" font-weight="normal">0</text>
<path d="M484.4 913.4V923.4" stroke="#c8d0da" stroke-width="1.2"/>
<text x="484.4" y="936.4" font-size="13.5" fill="#e6e6e6" text-anchor="middle" font-weight="normal">25</text>
<path d="M571 913.4V923.4" stroke="#c8d0da" stroke-width="1.2"/>
<text x="571" y="936.4" font-size="13.5" fill="#e6e6e6" text-anchor="middle" font-weight="normal">50</text>
<path d="M657.5 913.4V923.4" stroke="#c8d0da" stroke-width="1.2"/>
<text x="657.5" y="936.4" font-size="13.5" fill="#e6e6e6" text-anchor="middle" font-weight="normal">75</text>
<path d="M744 913.4V923.4" stroke="#c8d0da" stroke-width="1.2"/>
<text x="744" y="936.4" font-size="13.5" fill="#e6e6e6" text-anchor="middle" font-weight="normal">100</text>
<path d="M397.9 779.3 L744 865.9" stroke="#ffff00" stroke-width="2.2"/>
<circle cx="397.9" cy="779.3" r="5" fill="#fff" stroke="#ffff00" stroke-width="2.4"/>
<circle cx="744" cy="865.9" r="5" fill="#fff" stroke="#ffff00" stroke-width="2.4"/>
<text transform="translate(346 828.2) rotate(-90)" font-size="14" fill="#e6e6e6" text-anchor="middle" textLength="111.8" lengthAdjust="spacingAndGlyphs">Force (N × 100)</text>
<text x="339.5" y="961.5" font-size="13" fill="#c9ccd0" text-anchor="start" font-weight="bold" textLength="229.7" lengthAdjust="spacingAndGlyphs" opacity="0.85">Hold and drag left mouse button.</text>
<text x="570.8" y="961.3" font-size="14" fill="#e6e6e6" text-anchor="middle" font-weight="normal" textLength="141" lengthAdjust="spacingAndGlyphs">Pulling Distance (%)</text>
<path d="M769.1 802H789.3" stroke="#ffff00" stroke-width="2.4"/>
<circle cx="779.2" cy="802" r="5" fill="#fff" stroke="#ffff00" stroke-width="2.4"/>
<text x="795.9" y="807.3" font-size="15" fill="#e6e6e6" text-anchor="start" font-weight="bold" textLength="76.4" lengthAdjust="spacingAndGlyphs">Propulsion</text>
<circle cx="779.2" cy="819.6" r="7.6" fill="#7cb5ec"/>
<text x="795.9" y="826.5" font-size="15" fill="#e6e6e6" text-anchor="start" font-weight="bold" textLength="109.2" lengthAdjust="spacingAndGlyphs">Traction Range</text>
<circle cx="779.2" cy="838.3" r="7.6" fill="#434348"/>
<text x="795.9" y="845.2" font-size="15" fill="#e6e6e6" text-anchor="start" font-weight="bold" textLength="117.3" lengthAdjust="spacingAndGlyphs">Optimum Range</text>
<circle cx="779.2" cy="857" r="7.6" fill="#90ed7d"/>
<text x="795.9" y="863.9" font-size="15" fill="#e6e6e6" text-anchor="start" font-weight="bold" textLength="103.7" lengthAdjust="spacingAndGlyphs">Friction Range</text>
<text x="1607.4" y="80.6" font-size="23" fill="#e6e6e6" text-anchor="middle" font-weight="normal" textLength="48.9" lengthAdjust="spacingAndGlyphs" stroke="#e6e6e6" stroke-width="0.35">Cost</text>
<path d="M1500 230.7 L1500 129 A101.7 101.7 0 0 1 1591.6 186.4 Z" fill="#7cb5ec" stroke="#fff" stroke-width="1" stroke-linejoin="round"/>
<path d="M1500 230.7 L1591.6 186.4 A101.7 101.7 0 0 1 1581.6 291.3 Z" fill="#434348" stroke="#fff" stroke-width="1" stroke-linejoin="round"/>
<path d="M1500 230.7 L1581.6 291.3 A101.7 101.7 0 0 1 1469.4 327.7 Z" fill="#90ed7d" stroke="#fff" stroke-width="1" stroke-linejoin="round"/>
<path d="M1500 230.7 L1469.4 327.7 A101.7 101.7 0 0 1 1500 129 Z" fill="#f7a35c" stroke="#fff" stroke-width="1" stroke-linejoin="round"/>
<circle cx="1727.3" cy="175.8" r="7.6" fill="#7cb5ec"/>
<text x="1743.7" y="182.6" font-size="15" fill="#e6e6e6" text-anchor="start" font-weight="bold" textLength="54.5" lengthAdjust="spacingAndGlyphs">Chassis</text>
<circle cx="1727.3" cy="194.6" r="7.6" fill="#434348"/>
<text x="1743.7" y="201.4" font-size="15" fill="#e6e6e6" text-anchor="start" font-weight="bold" textLength="149.5" lengthAdjust="spacingAndGlyphs">Front Axle Assembly</text>
<circle cx="1727.3" cy="213.5" r="7.6" fill="#90ed7d"/>
<text x="1743.7" y="220.3" font-size="15" fill="#e6e6e6" text-anchor="start" font-weight="bold" textLength="143.5" lengthAdjust="spacingAndGlyphs">Rear Axle Assembly</text>
<circle cx="1727.3" cy="232.3" r="7.6" fill="#f7a35c"/>
<text x="1743.7" y="239.2" font-size="15" fill="#e6e6e6" text-anchor="start" font-weight="bold" textLength="151" lengthAdjust="spacingAndGlyphs">Mousetrap Assembly</text>
<text x="1370.4" y="356.8" font-size="23" fill="#e6e6e6" text-anchor="start" font-weight="normal" textLength="57.4" lengthAdjust="spacingAndGlyphs" stroke="#e6e6e6" stroke-width="0.35">Force</text>
<rect x="1368" y="374.4" width="147.2" height="143.9" fill="#52b332"/>
<rect x="1515.2" y="374.4" width="386.8" height="143.9" fill="#ea561c"/>
<path d="M1363.8 373.4H1907.8" stroke="#e6e6e6" stroke-width="1.3"/>
<text x="1344.5" y="378.4" font-size="13.5" fill="#e6e6e6" text-anchor="end" font-weight="normal" textLength="30" lengthAdjust="spacingAndGlyphs">0.4N</text>
<path d="M1363.8 447.2H1907.8" stroke="#e6e6e6" stroke-width="1.3"/>
<text x="1344.5" y="452.2" font-size="13.5" fill="#e6e6e6" text-anchor="end" font-weight="normal" textLength="30" lengthAdjust="spacingAndGlyphs">0.2N</text>
<path d="M1363.8 518.3H1907.8" stroke="#e6e6e6" stroke-width="1.3"/>
<text x="1344.5" y="523.3" font-size="13.5" fill="#e6e6e6" text-anchor="end" font-weight="normal" textLength="20" lengthAdjust="spacingAndGlyphs">0N</text>
<path d="M1363.8 429.2H1907.8 M1363.8 500.4H1907.8" stroke="#1a8fd0" stroke-width="2.2"/><text x="1376.7" y="423.7" font-size="14" fill="#111" text-anchor="start" font-weight="normal" textLength="58.6" lengthAdjust="spacingAndGlyphs">Traction</text><text x="1376.7" y="495.3" font-size="14" fill="#111" text-anchor="start" font-weight="normal" textLength="53.3" lengthAdjust="spacingAndGlyphs">Friction</text>
<path d="M1368 433 L1374 433.2 L1380 433.8 L1386 434.5 L1392 435.5 L1398 436.6 L1404 437.9 L1410 439.4 L1416 441 L1422 442.8 L1428 444.7 L1434 446.8 L1440 449 L1446 451.3 L1452 453.8 L1458 456.4 L1464 459.1 L1470 461.9 L1476 464.9 L1482 468 L1488 471.1 L1494 474.4 L1500 477.9 L1506 481.4 L1512 485 L1514.2 486.3 L1520 515.8 L1525 517.2 L1902 517.4" stroke="#e8e800" stroke-width="2.2" fill="none" stroke-linejoin="round"/>
<text x="1418.6" y="393.7" font-size="14" fill="#111" text-anchor="start" font-weight="normal" textLength="90.5" lengthAdjust="spacingAndGlyphs">Under Power</text>
<text x="1522.5" y="393.7" font-size="14" fill="#111" text-anchor="start" font-weight="normal" textLength="63.3" lengthAdjust="spacingAndGlyphs">Coasting</text>
<path d="M1368.3 518.3V528.3" stroke="#c8d0da" stroke-width="1.2"/>
<text x="1368.8" y="541.3" font-size="13.5" fill="#e6e6e6" text-anchor="middle" font-weight="normal">0s</text>
<path d="M1522.9 518.3V528.3" stroke="#c8d0da" stroke-width="1.2"/>
<text x="1523.4" y="541.3" font-size="13.5" fill="#e6e6e6" text-anchor="middle" font-weight="normal">2s</text>
<path d="M1677.5 518.3V528.3" stroke="#c8d0da" stroke-width="1.2"/>
<text x="1678" y="541.3" font-size="13.5" fill="#e6e6e6" text-anchor="middle" font-weight="normal">4s</text>
<path d="M1832.1 518.3V528.3" stroke="#c8d0da" stroke-width="1.2"/>
<text x="1832.6" y="541.3" font-size="13.5" fill="#e6e6e6" text-anchor="middle" font-weight="normal">6s</text>
<text x="1370.4" y="574.8" font-size="23" fill="#e6e6e6" text-anchor="start" font-weight="normal" textLength="92.8" lengthAdjust="spacingAndGlyphs" stroke="#e6e6e6" stroke-width="0.35">Distance</text>
<rect x="1368" y="592.7" width="147.2" height="143.7" fill="#52b332"/>
<rect x="1515.2" y="592.7" width="386.8" height="143.7" fill="#ea561c"/>
<path d="M1363.8 591.7H1907.8" stroke="#e6e6e6" stroke-width="1.3"/>
<text x="1344.5" y="596.7" font-size="13.5" fill="#e6e6e6" text-anchor="end" font-weight="normal" textLength="29.4" lengthAdjust="spacingAndGlyphs">20m</text>
<path d="M1363.8 665.2H1907.8" stroke="#e6e6e6" stroke-width="1.3"/>
<text x="1344.5" y="670.2" font-size="13.5" fill="#e6e6e6" text-anchor="end" font-weight="normal" textLength="29.4" lengthAdjust="spacingAndGlyphs">10m</text>
<path d="M1363.8 736.4H1907.8" stroke="#e6e6e6" stroke-width="1.3"/>
<text x="1344.5" y="741.4" font-size="13.5" fill="#e6e6e6" text-anchor="end" font-weight="normal" textLength="20.5" lengthAdjust="spacingAndGlyphs">0m</text>

<path d="M1368 736 C1420 736 1470 720 1515 706 C1560 690 1620 676 1680 665 C1760 650 1820 643 1902 642.2" stroke="#e8e800" stroke-width="2.2" fill="none" stroke-linejoin="round"/>
<text x="1418.6" y="612.3" font-size="14" fill="#111" text-anchor="start" font-weight="normal" textLength="90.5" lengthAdjust="spacingAndGlyphs">Under Power</text>
<text x="1522.5" y="612.3" font-size="14" fill="#111" text-anchor="start" font-weight="normal" textLength="63.3" lengthAdjust="spacingAndGlyphs">Coasting</text>
<path d="M1368.3 736.4V746.4" stroke="#c8d0da" stroke-width="1.2"/>
<text x="1368.8" y="759.4" font-size="13.5" fill="#e6e6e6" text-anchor="middle" font-weight="normal">0s</text>
<path d="M1522.9 736.4V746.4" stroke="#c8d0da" stroke-width="1.2"/>
<text x="1523.4" y="759.4" font-size="13.5" fill="#e6e6e6" text-anchor="middle" font-weight="normal">2s</text>
<path d="M1677.5 736.4V746.4" stroke="#c8d0da" stroke-width="1.2"/>
<text x="1678" y="759.4" font-size="13.5" fill="#e6e6e6" text-anchor="middle" font-weight="normal">4s</text>
<path d="M1832.1 736.4V746.4" stroke="#c8d0da" stroke-width="1.2"/>
<text x="1832.6" y="759.4" font-size="13.5" fill="#e6e6e6" text-anchor="middle" font-weight="normal">6s</text>
<text x="1370.4" y="792.8" font-size="23" fill="#e6e6e6" text-anchor="start" font-weight="normal" textLength="85.3" lengthAdjust="spacingAndGlyphs" stroke="#e6e6e6" stroke-width="0.35">Velocity</text>
<rect x="1368" y="811.9" width="147.2" height="143.6" fill="#52b332"/>
<rect x="1515.2" y="811.9" width="386.8" height="143.6" fill="#ea561c"/>
<path d="M1363.8 810.9H1907.8" stroke="#e6e6e6" stroke-width="1.3"/>
<text x="1344.5" y="815.9" font-size="13.5" fill="#e6e6e6" text-anchor="end" font-weight="normal" textLength="35" lengthAdjust="spacingAndGlyphs">4m/s</text>
<path d="M1363.8 884H1907.8" stroke="#e6e6e6" stroke-width="1.3"/>
<text x="1344.5" y="889" font-size="13.5" fill="#e6e6e6" text-anchor="end" font-weight="normal" textLength="35" lengthAdjust="spacingAndGlyphs">2m/s</text>
<path d="M1363.8 955.5H1907.8" stroke="#e6e6e6" stroke-width="1.3"/>
<text x="1344.5" y="960.5" font-size="13.5" fill="#e6e6e6" text-anchor="end" font-weight="normal" textLength="35" lengthAdjust="spacingAndGlyphs">0m/s</text>

<path d="M1368 955.5 C1405 900 1455 835 1516.4 826.6 L1902 955.5" stroke="#e8e800" stroke-width="2.2" fill="none" stroke-linejoin="round"/>
<text x="1418.6" y="830.5" font-size="14" fill="#111" text-anchor="start" font-weight="normal" textLength="90.5" lengthAdjust="spacingAndGlyphs">Under Power</text>
<text x="1522.5" y="830.5" font-size="14" fill="#111" text-anchor="start" font-weight="normal" textLength="63.3" lengthAdjust="spacingAndGlyphs">Coasting</text>
<path d="M1368.3 955.5V965.5" stroke="#c8d0da" stroke-width="1.2"/>
<text x="1368.8" y="978.5" font-size="13.5" fill="#e6e6e6" text-anchor="middle" font-weight="normal">0s</text>
<path d="M1522.9 955.5V965.5" stroke="#c8d0da" stroke-width="1.2"/>
<text x="1523.4" y="978.5" font-size="13.5" fill="#e6e6e6" text-anchor="middle" font-weight="normal">2s</text>
<path d="M1677.5 955.5V965.5" stroke="#c8d0da" stroke-width="1.2"/>
<text x="1678" y="978.5" font-size="13.5" fill="#e6e6e6" text-anchor="middle" font-weight="normal">4s</text>
<path d="M1832.1 955.5V965.5" stroke="#c8d0da" stroke-width="1.2"/>
<text x="1832.6" y="978.5" font-size="13.5" fill="#e6e6e6" text-anchor="middle" font-weight="normal">6s</text>
<path d="M325.6 56.1V70.7 M318.3 63.4H332.9 M323.4 58.3L325.6 56.1L327.8 58.3 M323.4 68.5L325.6 70.7L327.8 68.5 M320.5 61.2L318.3 63.4L320.5 65.6 M330.7 61.2L332.9 63.4L330.7 65.6" fill="none" stroke="#20262c" stroke-width="1.3" stroke-linecap="round" stroke-linejoin="round"/>
<path d="M890.2 73.8L895 69 M897 67L902.2 61.8 M890.2 69.8L890.2 73.8L894.2 73.8 M898.2 61.8L902.2 61.8L902.2 65.8" fill="none" stroke="#1e2328" stroke-width="1.5"/>
<path d="M916 63.2L926 72.2 M926 63.2L916 72.2" fill="none" stroke="#1e2328" stroke-width="1.6"/>
<path d="M325.6 369.1V383.7 M318.3 376.4H332.9 M323.4 371.3L325.6 369.1L327.8 371.3 M323.4 381.5L325.6 383.7L327.8 381.5 M320.5 374.2L318.3 376.4L320.5 378.6 M330.7 374.2L332.9 376.4L330.7 378.6" fill="none" stroke="#20262c" stroke-width="1.3" stroke-linecap="round" stroke-linejoin="round"/>
<path d="M890.2 386.8L895 382 M897 380L902.2 374.8 M890.2 382.8L890.2 386.8L894.2 386.8 M898.2 374.8L902.2 374.8L902.2 378.8" fill="none" stroke="#1e2328" stroke-width="1.5"/>
<path d="M916 376.2L926 385.2 M926 376.2L916 385.2" fill="none" stroke="#1e2328" stroke-width="1.6"/>
<path d="M325.6 682.1V696.7 M318.3 689.4H332.9 M323.4 684.3L325.6 682.1L327.8 684.3 M323.4 694.5L325.6 696.7L327.8 694.5 M320.5 687.2L318.3 689.4L320.5 691.6 M330.7 687.2L332.9 689.4L330.7 691.6" fill="none" stroke="#20262c" stroke-width="1.3" stroke-linecap="round" stroke-linejoin="round"/>
<path d="M890.2 699.8L895 695 M897 693L902.2 687.8 M890.2 695.8L890.2 699.8L894.2 699.8 M898.2 687.8L902.2 687.8L902.2 691.8" fill="none" stroke="#1e2328" stroke-width="1.5"/>
<path d="M916 689.2L926 698.2 M926 689.2L916 698.2" fill="none" stroke="#1e2328" stroke-width="1.6"/>
<path d="M1307.6 56.1V70.7 M1300.3 63.4H1314.9 M1305.4 58.3L1307.6 56.1L1309.8 58.3 M1305.4 68.5L1307.6 70.7L1309.8 68.5 M1302.5 61.2L1300.3 63.4L1302.5 65.6 M1312.7 61.2L1314.9 63.4L1312.7 65.6" fill="none" stroke="#20262c" stroke-width="1.3" stroke-linecap="round" stroke-linejoin="round"/>
<path d="M1872.2 73.8L1877 69 M1879 67L1884.2 61.8 M1872.2 69.8L1872.2 73.8L1876.2 73.8 M1880.2 61.8L1884.2 61.8L1884.2 65.8" fill="none" stroke="#1e2328" stroke-width="1.5"/>
<path d="M1898 63.2L1908 72.2 M1908 63.2L1898 72.2" fill="none" stroke="#1e2328" stroke-width="1.6"/>
<path d="M1307.6 338.1V352.7 M1300.3 345.4H1314.9 M1305.4 340.3L1307.6 338.1L1309.8 340.3 M1305.4 350.5L1307.6 352.7L1309.8 350.5 M1302.5 343.2L1300.3 345.4L1302.5 347.6 M1312.7 343.2L1314.9 345.4L1312.7 347.6" fill="none" stroke="#20262c" stroke-width="1.3" stroke-linecap="round" stroke-linejoin="round"/>
<path d="M1872.2 355.8L1877 351 M1879 349L1884.2 343.8 M1872.2 351.8L1872.2 355.8L1876.2 355.8 M1880.2 343.8L1884.2 343.8L1884.2 347.8" fill="none" stroke="#1e2328" stroke-width="1.5"/>
<path d="M1898 345.2L1908 354.2 M1908 345.2L1898 354.2" fill="none" stroke="#1e2328" stroke-width="1.6"/>
<path d="M1295 769.5H1920" stroke="#000" stroke-opacity="0.09" stroke-width="1"/>
<path d="M1635 955.5 H1894.5 V971 Q1894.5 975 1890.5 975 H1639 Q1635 975 1635 971 Z" fill="#d2d2d2" opacity="0.97"/>
<path d="M1635 955.5 H1894.5 V969.5 Q1894.5 973 1891 973 H1638.5 Q1635 973 1635 969.5 Z" fill="#f0f0f0" opacity="0.96"/>
<path d="M1678.4 956V966 M1833 956V966" stroke="#c9d6ea" stroke-width="1"/></g><defs><clipPath id="mc2"><rect x="313" y="51" width="1607" height="938"/></clipPath></defs></svg>
<div id="hdr"><div id="logo"><svg width="46" height="48" style="position:absolute;left:0;top:0" viewBox="0 0 46 48"><polygon points="5.2,8.5 28,5 43.6,12.4 42.7,37.8 18.2,45.6 5.9,33.2" fill="none" stroke="#f39a55" stroke-width="1.1" stroke-linejoin="round"/><polyline points="7.2,10.2 18.2,16.9 39.7,13" fill="none" stroke="#3a4651" stroke-width="1.3"/><line x1="18.2" y1="16.9" x2="18.2" y2="41.7" stroke="#3a4651" stroke-width="1.3"/></svg><span class="t">MOUSETRAP CAR</span></div>
<span class="nav" style="left:776.8px">RESEARCH</span>
<span class="nav act" style="left:878.6px">ENGINEERING</span>
<span class="nav" style="left:1003.3px">COMPETITION</span>
<span class="nav" style="left:1127.2px">OUTPUTS</span>
<span class="nav" style="left:1217.4px">BUILD</span>
<div id="uline"></div>
<div class="sep" style="left:1736px"></div><div class="sep" style="left:1864px"></div>
<svg width="1920" height="50" style="position:absolute;left:0;top:0" viewBox="0 0 1920 50"><path d="M1756 16.5 H1762.5 L1765 18.8 H1774 Q1775.3 18.8 1775.3 20 V29.3 Q1775.3 30.4 1774 30.4 H1756 Q1755 30.4 1755 29.3 V17.5 Q1755 16.5 1756 16.5 Z" fill="none" stroke="#6b6b6b" stroke-width="1.3"/><circle cx="1803.1" cy="23" r="9.4" fill="none" stroke="#6b6b6b" stroke-width="1.3"/><path d="M1800.2 20.6 Q1800.4 17.6 1803.2 17.6 Q1806 17.7 1806 20.2 Q1806 21.9 1804.2 22.8 Q1803.1 23.4 1803.1 25" fill="none" stroke="#6b6b6b" stroke-width="1.4"/><circle cx="1803.1" cy="27.8" r="0.9" fill="#6b6b6b"/><rect x="1831.6" y="16.2" width="14" height="17" rx="1.2" fill="none" stroke="#6b6b6b" stroke-width="1.3"/><path d="M1835 16.5 V15.5 H1837 Q1837.2 13.4 1838.6 13.4 Q1840 13.4 1840.2 15.5 H1842.2 V16.8 Z" fill="#6b6b6b"/><path d="M1888.6 16 H1882.8 V30.3 H1888.6 M1885.5 23.2 H1901.5 M1897 18.6 L1901.7 23.2 L1897 27.8" fill="none" stroke="#6b6b6b" stroke-width="1.3"/></svg>
</div>
<div id="side"><div class="h">ENGINEERING</div><div class="sh" style="top:27px">Design</div><div class="row" style="top:64px"><span class="lbl">Chassis</span><span class="btns"><span class="b1"><svg width="17" height="17" viewBox="0 0 512 512"><path fill="#555759" d="M507.73 109.1c-2.24-9.03-13.54-12.09-20.12-5.51l-74.36 74.36-67.88-11.31-11.31-67.88 74.36-74.36c6.62-6.62 3.43-17.9-5.66-20.16-47.38-11.74-99.55.91-136.58 37.93-39.64 39.64-50.55 97.1-34.05 147.2L18.74 402.76c-24.99 24.99-24.99 65.51 0 90.5 24.99 24.99 65.51 24.99 90.5 0l213.21-213.21c50.12 16.71 107.47 5.68 147.37-34.22 37.07-37.07 49.7-89.32 37.91-136.73zM64 472c-13.25 0-24-10.75-24-24 0-13.26 10.750-24 24-24s24 10.74 24 24c0 13.25-10.75 24-24 24z"/></svg></span><span class="b2"><svg width="20" height="13.4" viewBox="0 64 576 384"><path fill="#dcdcdc" d="M572.52 241.4C518.29 135.59 410.93 64 288 64S57.68 135.64 3.48 241.41a32.35 32.35 0 0 0 0 29.19C57.71 376.410 165.07 448 288 448s230.32-71.64 284.52-177.41a32.35 32.35 0 0 0 0-29.19zM288 400a144 144 0 1 1 144-144 143.93 143.93 0 0 1-144 144zm0-240a95.31 95.31 0 0 0-25.31 3.79 47.85 47.85 0 0 1-66.9 66.9A95.78 95.78 0 1 0 288 160z"/></svg></span></span></div><div class="row" style="top:96px"><span class="lbl">Front Axle Assembly</span><span class="btns"><span class="b1"><svg width="17" height="17" viewBox="0 0 512 512"><path fill="#555759" d="M507.73 109.1c-2.24-9.03-13.54-12.09-20.12-5.51l-74.36 74.36-67.88-11.31-11.31-67.88 74.36-74.36c6.62-6.62 3.43-17.9-5.66-20.16-47.38-11.74-99.55.91-136.58 37.93-39.64 39.64-50.55 97.1-34.05 147.2L18.74 402.76c-24.99 24.99-24.99 65.51 0 90.5 24.99 24.99 65.51 24.99 90.5 0l213.21-213.21c50.12 16.71 107.47 5.68 147.37-34.22 37.07-37.07 49.7-89.32 37.91-136.73zM64 472c-13.25 0-24-10.75-24-24 0-13.26 10.750-24 24-24s24 10.74 24 24c0 13.25-10.75 24-24 24z"/></svg></span><span class="b2"><svg width="20" height="13.4" viewBox="0 64 576 384"><path fill="#dcdcdc" d="M572.52 241.4C518.29 135.59 410.93 64 288 64S57.68 135.64 3.48 241.41a32.35 32.35 0 0 0 0 29.19C57.71 376.410 165.07 448 288 448s230.32-71.64 284.52-177.41a32.35 32.35 0 0 0 0-29.19zM288 400a144 144 0 1 1 144-144 143.93 143.93 0 0 1-144 144zm0-240a95.31 95.31 0 0 0-25.31 3.79 47.85 47.85 0 0 1-66.9 66.9A95.78 95.78 0 1 0 288 160z"/></svg></span></span></div><div class="row" style="top:128px"><span class="lbl">Rear Axle Assembly</span><span class="btns"><span class="b1"><svg width="17" height="17" viewBox="0 0 512 512"><path fill="#555759" d="M507.73 109.1c-2.24-9.03-13.54-12.09-20.12-5.51l-74.36 74.36-67.88-11.31-11.31-67.88 74.36-74.36c6.62-6.62 3.43-17.9-5.66-20.16-47.38-11.74-99.55.91-136.58 37.93-39.64 39.64-50.55 97.1-34.05 147.2L18.74 402.76c-24.99 24.99-24.99 65.51 0 90.5 24.99 24.99 65.51 24.99 90.5 0l213.21-213.21c50.12 16.71 107.47 5.68 147.37-34.22 37.07-37.07 49.7-89.32 37.91-136.73zM64 472c-13.25 0-24-10.75-24-24 0-13.26 10.750-24 24-24s24 10.74 24 24c0 13.25-10.75 24-24 24z"/></svg></span><span class="b2"><svg width="20" height="13.4" viewBox="0 64 576 384"><path fill="#dcdcdc" d="M572.52 241.4C518.29 135.59 410.93 64 288 64S57.68 135.64 3.48 241.41a32.35 32.35 0 0 0 0 29.19C57.71 376.410 165.07 448 288 448s230.32-71.64 284.52-177.41a32.35 32.35 0 0 0 0-29.19zM288 400a144 144 0 1 1 144-144 143.93 143.93 0 0 1-144 144zm0-240a95.31 95.31 0 0 0-25.31 3.79 47.85 47.85 0 0 1-66.9 66.9A95.78 95.78 0 1 0 288 160z"/></svg></span></span></div><div class="row" style="top:160px"><span class="lbl">Mousetrap Assembly</span><span class="btns"><span class="b1"><svg width="17" height="17" viewBox="0 0 512 512"><path fill="#555759" d="M507.73 109.1c-2.24-9.03-13.54-12.09-20.12-5.51l-74.36 74.36-67.88-11.31-11.31-67.88 74.36-74.36c6.62-6.62 3.43-17.9-5.66-20.16-47.38-11.74-99.55.91-136.58 37.93-39.64 39.64-50.55 97.1-34.05 147.2L18.74 402.76c-24.99 24.99-24.99 65.51 0 90.5 24.99 24.99 65.51 24.99 90.5 0l213.21-213.21c50.12 16.71 107.47 5.68 147.37-34.22 37.07-37.07 49.7-89.32 37.91-136.73zM64 472c-13.25 0-24-10.75-24-24 0-13.26 10.750-24 24-24s24 10.74 24 24c0 13.25-10.75 24-24 24z"/></svg></span><span class="b2"><svg width="20" height="13.4" viewBox="0 64 576 384"><path fill="#dcdcdc" d="M572.52 241.4C518.29 135.59 410.93 64 288 64S57.68 135.64 3.48 241.41a32.35 32.35 0 0 0 0 29.19C57.71 376.410 165.07 448 288 448s230.32-71.64 284.52-177.41a32.35 32.35 0 0 0 0-29.19zM288 400a144 144 0 1 1 144-144 143.93 143.93 0 0 1-144 144zm0-240a95.31 95.31 0 0 0-25.31 3.79 47.85 47.85 0 0 1-66.9 66.9A95.78 95.78 0 1 0 288 160z"/></svg></span></span></div><div class="sh" style="top:192px">Analysis</div><div class="row" style="top:229px"><span class="lbl">Mass</span><span class="btns"><span class="b1"><svg width="17" height="17" viewBox="0 0 512 512"><path fill="#555759" d="M507.73 109.1c-2.24-9.03-13.54-12.09-20.12-5.51l-74.36 74.36-67.88-11.31-11.31-67.88 74.36-74.36c6.62-6.62 3.43-17.9-5.66-20.16-47.38-11.74-99.55.91-136.58 37.93-39.64 39.64-50.55 97.1-34.05 147.2L18.74 402.76c-24.99 24.99-24.99 65.51 0 90.5 24.99 24.99 65.51 24.99 90.5 0l213.21-213.21c50.12 16.71 107.47 5.68 147.37-34.22 37.07-37.07 49.7-89.32 37.91-136.73zM64 472c-13.25 0-24-10.75-24-24 0-13.26 10.750-24 24-24s24 10.74 24 24c0 13.25-10.75 24-24 24z"/></svg></span><span class="b2"><svg width="20" height="13.4" viewBox="0 64 576 384"><path fill="#dcdcdc" d="M572.52 241.4C518.29 135.59 410.93 64 288 64S57.68 135.64 3.48 241.41a32.35 32.35 0 0 0 0 29.19C57.71 376.410 165.07 448 288 448s230.32-71.64 284.52-177.41a32.35 32.35 0 0 0 0-29.19zM288 400a144 144 0 1 1 144-144 143.93 143.93 0 0 1-144 144zm0-240a95.31 95.31 0 0 0-25.31 3.79 47.85 47.85 0 0 1-66.9 66.9A95.78 95.78 0 1 0 288 160z"/></svg></span></span></div><div class="row" style="top:261px"><span class="lbl">Friction</span><span class="btns"><span class="b1"><svg width="17" height="17" viewBox="0 0 512 512"><path fill="#555759" d="M507.73 109.1c-2.24-9.03-13.54-12.09-20.12-5.51l-74.36 74.36-67.88-11.31-11.31-67.88 74.36-74.36c6.62-6.62 3.43-17.9-5.66-20.16-47.38-11.74-99.55.91-136.58 37.93-39.64 39.64-50.55 97.1-34.05 147.2L18.74 402.76c-24.99 24.99-24.99 65.51 0 90.5 24.99 24.99 65.51 24.99 90.5 0l213.21-213.21c50.12 16.71 107.47 5.68 147.37-34.22 37.07-37.07 49.7-89.32 37.91-136.73zM64 472c-13.25 0-24-10.75-24-24 0-13.26 10.750-24 24-24s24 10.74 24 24c0 13.25-10.75 24-24 24z"/></svg></span><span class="b2"><svg width="20" height="13.4" viewBox="0 64 576 384"><path fill="#dcdcdc" d="M572.52 241.4C518.29 135.59 410.93 64 288 64S57.68 135.64 3.48 241.41a32.35 32.35 0 0 0 0 29.19C57.71 376.410 165.07 448 288 448s230.32-71.64 284.52-177.41a32.35 32.35 0 0 0 0-29.19zM288 400a144 144 0 1 1 144-144 143.93 143.93 0 0 1-144 144zm0-240a95.31 95.31 0 0 0-25.31 3.79 47.85 47.85 0 0 1-66.9 66.9A95.78 95.78 0 1 0 288 160z"/></svg></span></span></div><div class="row" style="top:293px"><span class="lbl">Powertrain</span><span class="btns"><span class="b1"><svg width="17" height="17" viewBox="0 0 512 512"><path fill="#555759" d="M507.73 109.1c-2.24-9.03-13.54-12.09-20.12-5.51l-74.36 74.36-67.88-11.31-11.31-67.88 74.36-74.36c6.62-6.62 3.43-17.9-5.66-20.16-47.38-11.74-99.55.91-136.58 37.93-39.64 39.64-50.55 97.1-34.05 147.2L18.74 402.76c-24.99 24.99-24.99 65.51 0 90.5 24.99 24.99 65.51 24.99 90.5 0l213.21-213.21c50.12 16.71 107.47 5.68 147.37-34.22 37.07-37.07 49.7-89.32 37.91-136.73zM64 472c-13.25 0-24-10.75-24-24 0-13.26 10.750-24 24-24s24 10.74 24 24c0 13.25-10.75 24-24 24z"/></svg></span><span class="b2"><svg width="20" height="13.4" viewBox="0 64 576 384"><path fill="#dcdcdc" d="M572.52 241.4C518.29 135.59 410.93 64 288 64S57.68 135.64 3.48 241.41a32.35 32.35 0 0 0 0 29.19C57.71 376.410 165.07 448 288 448s230.32-71.64 284.52-177.41a32.35 32.35 0 0 0 0-29.19zM288 400a144 144 0 1 1 144-144 143.93 143.93 0 0 1-144 144zm0-240a95.31 95.31 0 0 0-25.31 3.79 47.85 47.85 0 0 1-66.9 66.9A95.78 95.78 0 1 0 288 160z"/></svg></span></span></div><div class="row" style="top:325px"><span class="lbl">Cost</span><span class="btns"><span class="b1"><svg width="17" height="17" viewBox="0 0 512 512"><path fill="#555759" d="M507.73 109.1c-2.24-9.03-13.54-12.09-20.12-5.51l-74.36 74.36-67.88-11.31-11.31-67.88 74.36-74.36c6.62-6.62 3.43-17.9-5.66-20.16-47.38-11.74-99.55.91-136.58 37.93-39.64 39.64-50.55 97.1-34.05 147.2L18.74 402.76c-24.99 24.99-24.99 65.51 0 90.5 24.99 24.99 65.51 24.99 90.5 0l213.21-213.21c50.12 16.71 107.47 5.68 147.37-34.22 37.07-37.07 49.7-89.32 37.91-136.73zM64 472c-13.25 0-24-10.75-24-24 0-13.26 10.750-24 24-24s24 10.74 24 24c0 13.25-10.75 24-24 24z"/></svg></span><span class="b2"><svg width="20" height="13.4" viewBox="0 64 576 384"><path fill="#dcdcdc" d="M572.52 241.4C518.29 135.59 410.93 64 288 64S57.68 135.64 3.48 241.41a32.35 32.35 0 0 0 0 29.19C57.71 376.410 165.07 448 288 448s230.32-71.64 284.52-177.41a32.35 32.35 0 0 0 0-29.19zM288 400a144 144 0 1 1 144-144 143.93 143.93 0 0 1-144 144zm0-240a95.31 95.31 0 0 0-25.31 3.79 47.85 47.85 0 0 1-66.9 66.9A95.78 95.78 0 1 0 288 160z"/></svg></span></span></div><div class="row" style="top:357px"><span class="lbl">Performance</span><span class="btns"><span class="b1 dis"><svg width="17" height="17" viewBox="0 0 512 512"><path fill="#c3c5c7" d="M507.73 109.1c-2.24-9.03-13.54-12.09-20.12-5.51l-74.36 74.36-67.88-11.31-11.31-67.88 74.36-74.36c6.62-6.62 3.43-17.9-5.66-20.16-47.38-11.74-99.55.91-136.58 37.93-39.64 39.64-50.55 97.1-34.05 147.2L18.74 402.76c-24.99 24.99-24.99 65.51 0 90.5 24.99 24.99 65.51 24.99 90.5 0l213.21-213.21c50.12 16.71 107.47 5.68 147.37-34.22 37.07-37.07 49.7-89.32 37.91-136.73zM64 472c-13.25 0-24-10.75-24-24 0-13.26 10.750-24 24-24s24 10.74 24 24c0 13.25-10.75 24-24 24z"/></svg></span><span class="b2"><svg width="20" height="13.4" viewBox="0 64 576 384"><path fill="#dcdcdc" d="M572.52 241.4C518.29 135.59 410.93 64 288 64S57.68 135.64 3.48 241.41a32.35 32.35 0 0 0 0 29.19C57.71 376.410 165.07 448 288 448s230.32-71.64 284.52-177.41a32.35 32.35 0 0 0 0-29.19zM288 400a144 144 0 1 1 144-144 143.93 143.93 0 0 1-144 144zm0-240a95.31 95.31 0 0 0-25.31 3.79 47.85 47.85 0 0 1-66.9 66.9A95.78 95.78 0 1 0 288 160z"/></svg></span></span></div></div>
<div id="foot"><span class="c"><svg width="31" height="31" viewBox="0 0 31 31"><path d="M7.5 6.5 H20.5 L23.5 9.5 V23.5 Q23.5 24.5 22.5 24.5 H8.5 Q7.5 24.5 7.5 23.5 Z" fill="none" stroke="#fff" stroke-width="1.4"/><path d="M10.5 6.8 V11.2 H19 V6.8" fill="none" stroke="#fff" stroke-width="1.4"/><circle cx="15.5" cy="17.5" r="2.6" fill="none" stroke="#fff" stroke-width="1.4"/></svg></span><span class="t">new thing</span></div>
</body></html>
